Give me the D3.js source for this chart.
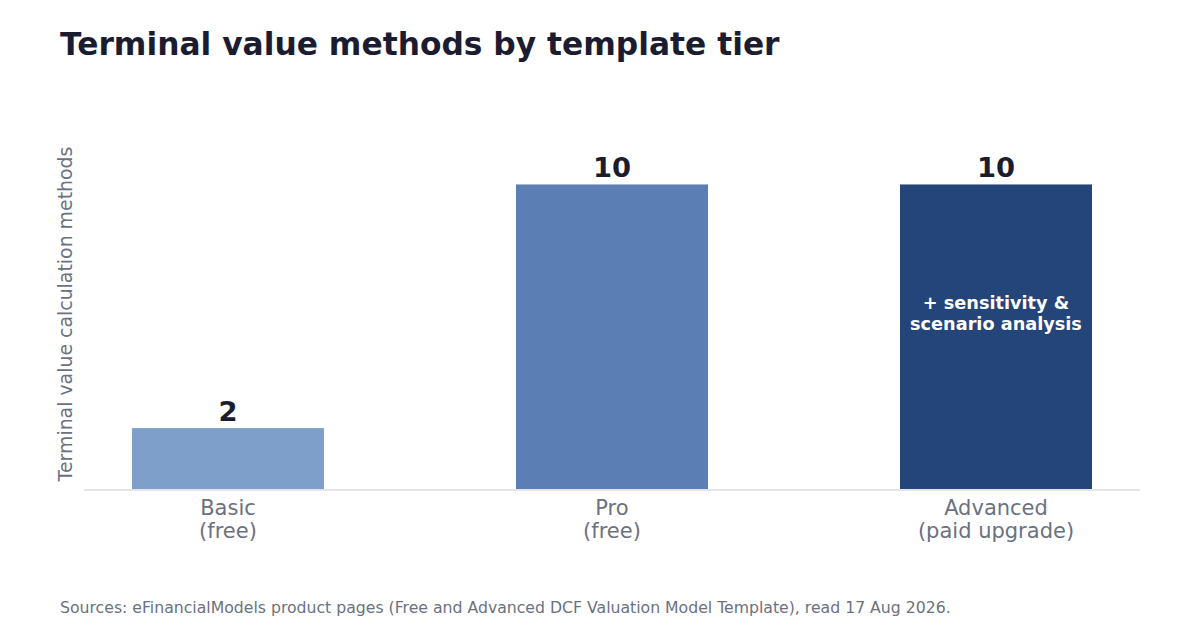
<!DOCTYPE html>
<html>
<head>
<meta charset="utf-8">
<script src="https://cdn.jsdelivr.net/npm/d3@7"></script>
<style>
    body { margin: 0; background: #ffffff; }
    svg text { font-family: "DejaVu Sans", sans-serif; }
</style>
</head>
<body>
<div id="chart"></div>
<script>
// Chart data
var tiers = ["Basic\n(free)", "Pro\n(free)", "Advanced\n(paid upgrade)"];
var methodCounts = [2, 10, 10];
var barColors = ["#7f9fcb", "#5b7eb4", "#244579"];
var barNotes = ["", "", "+ sensitivity &\nscenario analysis"];

var W = 1200, H = 628;
var margin = { top: 154, right: 60, bottom: 139, left: 84 };

var svg = d3.select("#chart").append("svg")
    .attr("width", W)
    .attr("height", H);

var data = tiers.map(function(t, i){
    return { tier: t, value: methodCounts[i], color: barColors[i], note: barNotes[i] };
});

var x = d3.scaleBand()
    .domain(tiers)
    .range([margin.left, W - margin.right])
    .paddingInner(0.5)
    .paddingOuter(0.125);

var y = d3.scaleLinear()
    .domain([0, 11])
    .range([H - margin.bottom, margin.top]);

// Title
svg.append("text")
    .attr("x", 60)
    .attr("y", 55)
    .style("font-size", "31.3px")
    .style("font-weight", "bold")
    .style("fill", "#1c1c30")
    .text("Terminal value methods by template tier");

// Bars
svg.selectAll(".bar")
    .data(data).enter()
    .append("rect")
    .attr("class", "bar")
    .attr("x", function(d){ return x(d.tier); })
    .attr("width", x.bandwidth())
    .attr("y", function(d){ return y(d.value); })
    .attr("height", function(d){ return y(0) - y(d.value); })
    .style("fill", function(d){ return d.color; });

// Baseline
svg.append("line")
    .attr("x1", margin.left)
    .attr("x2", W - margin.right)
    .attr("y1", y(0) + 1)
    .attr("y2", y(0) + 1)
    .style("stroke", "#e3e5ea")
    .style("stroke-width", 2);

// Value labels
svg.selectAll(".value")
    .data(data).enter()
    .append("text")
    .attr("class", "value")
    .attr("x", function(d){ return x(d.tier) + x.bandwidth() / 2; })
    .attr("y", function(d){ return y(d.value) - 7; })
    .attr("text-anchor", "middle")
    .style("font-size", "27.4px")
    .style("font-weight", "bold")
    .style("fill", "#1c1c30")
    .text(function(d){ return d.value; });

// Notes inside bars
var notes = svg.selectAll(".note")
    .data(data.filter(function(d){ return d.note; })).enter()
    .append("text")
    .attr("class", "note")
    .attr("text-anchor", "middle")
    .style("font-size", "17.7px")
    .style("font-weight", "bold")
    .style("fill", "#ffffff");

notes.each(function(d){
    var lines = d.note.split("\n");
    var cx = x(d.tier) + x.bandwidth() / 2;
    var cy = y(d.value * 0.59);
    d3.select(this).selectAll("tspan")
        .data(lines).enter()
        .append("tspan")
        .attr("x", cx)
        .attr("y", function(l, i){ return cy + (i - (lines.length - 1) / 2) * 21 + 10; })
        .text(function(l){ return l; });
});

// X tick labels
var ticks = svg.selectAll(".tick-label")
    .data(tiers).enter()
    .append("text")
    .attr("class", "tick-label")
    .attr("text-anchor", "middle")
    .style("font-size", "21px")
    .style("fill", "#6b7180");

ticks.each(function(t){
    var cx = x(t) + x.bandwidth() / 2;
    d3.select(this).selectAll("tspan")
        .data(t.split("\n")).enter()
        .append("tspan")
        .attr("x", cx)
        .attr("y", function(l, i){ return y(0) + 26 + i * 23; })
        .text(function(l){ return l; });
});

// Y axis label
svg.append("text")
    .attr("transform", "translate(72," + 314 + ") rotate(-90)")
    .attr("text-anchor", "middle")
    .style("font-size", "18.9px")
    .style("fill", "#6b7180")
    .text("Terminal value calculation methods");

// Source
svg.append("text")
    .attr("x", 60)
    .attr("y", 613)
    .style("font-size", "15.7px")
    .style("fill", "#6b7180")
    .text("Sources: eFinancialModels product pages (Free and Advanced DCF Valuation Model Template), read 17 Aug 2026.");
</script>
</body>
</html>
